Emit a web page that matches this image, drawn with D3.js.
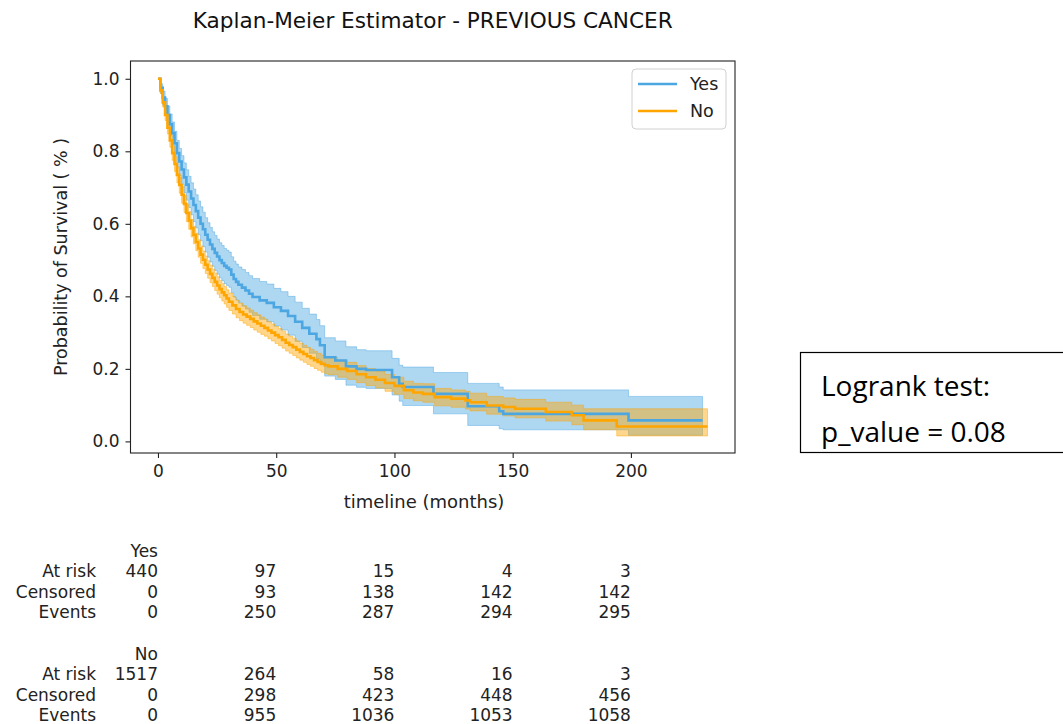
<!DOCTYPE html>
<html>
<head>
<meta charset="utf-8">
<script src="https://cdn.jsdelivr.net/npm/d3@7"></script>
<style>
  body { margin: 0; background: #fff; }
  svg { display: block; font-family: "DejaVu Sans", sans-serif; }
</style>
</head>
<body>
<script>
// survival curve for "Yes" (months, S(t), lower CI, upper CI)
const yesTime = [0, 1, 2, 3, 4, 5, 6, 7, 8, 9, 10, 11, 12, 13, 14, 15, 16, 17, 18, 19, 20, 21, 22, 23, 24, 25, 26, 27, 28, 29, 30, 31, 32, 33, 34, 35.5, 37, 38.5, 40, 43, 46, 49, 52, 55, 58, 61, 64, 67, 68.5, 70.5, 75, 79.5, 84, 88, 99, 102, 103.5, 116.5, 131, 144.3, 146, 199, 230.3];
const yesSurv = [1, 0.975, 0.948, 0.924, 0.9, 0.875, 0.85, 0.822, 0.795, 0.772, 0.75, 0.728, 0.708, 0.689, 0.67, 0.652, 0.635, 0.617, 0.6, 0.585, 0.57, 0.556, 0.543, 0.531, 0.52, 0.51, 0.5, 0.492, 0.484, 0.479, 0.474, 0.46, 0.448, 0.44, 0.432, 0.424, 0.416, 0.407, 0.398, 0.389, 0.382, 0.37, 0.36, 0.346, 0.33, 0.313, 0.297, 0.282, 0.265, 0.232, 0.223, 0.207, 0.2, 0.197, 0.177, 0.159, 0.15, 0.131, 0.097, 0.083, 0.076, 0.058, 0.058];
const yesLower = [1, 0.96, 0.927, 0.899, 0.872, 0.844, 0.817, 0.787, 0.758, 0.733, 0.709, 0.686, 0.665, 0.645, 0.625, 0.606, 0.589, 0.57, 0.553, 0.537, 0.522, 0.508, 0.495, 0.483, 0.471, 0.461, 0.451, 0.443, 0.435, 0.43, 0.425, 0.41, 0.398, 0.39, 0.382, 0.373, 0.365, 0.356, 0.347, 0.337, 0.33, 0.318, 0.307, 0.293, 0.276, 0.259, 0.243, 0.228, 0.211, 0.18, 0.171, 0.155, 0.149, 0.146, 0.128, 0.111, 0.099, 0.076, 0.044, 0.035, 0.032, 0.017, 0.017];
const yesUpper = [1, 0.986, 0.966, 0.946, 0.925, 0.903, 0.881, 0.855, 0.83, 0.808, 0.788, 0.768, 0.749, 0.731, 0.713, 0.696, 0.68, 0.663, 0.647, 0.632, 0.617, 0.603, 0.59, 0.578, 0.568, 0.558, 0.548, 0.54, 0.532, 0.527, 0.522, 0.509, 0.497, 0.489, 0.481, 0.474, 0.466, 0.457, 0.449, 0.441, 0.434, 0.422, 0.413, 0.4, 0.384, 0.367, 0.351, 0.336, 0.319, 0.286, 0.277, 0.261, 0.253, 0.25, 0.229, 0.21, 0.205, 0.19, 0.16, 0.15, 0.142, 0.124, 0.124];

// survival curve for "No"
const noTime = [0, 1, 2, 3, 4, 5, 6, 7, 8, 9, 10, 11, 12, 13, 14, 15, 16, 17, 18, 19, 20, 21, 22, 23, 24, 25, 26, 27, 28, 29, 30, 31.5, 33, 34.5, 36, 37.5, 39, 40.5, 42, 43.5, 45, 46.5, 48, 49.5, 51, 52.5, 54, 55.5, 57, 58.5, 60, 61.5, 63, 64.5, 66, 67.5, 69, 70.5, 72, 76, 80, 84, 88, 92, 96, 100, 104, 108, 112, 117, 124, 130, 132, 139, 146, 151, 164, 175, 180, 194, 232.4];
const noSurv = [1, 0.968, 0.935, 0.9, 0.865, 0.83, 0.795, 0.765, 0.735, 0.707, 0.68, 0.655, 0.63, 0.609, 0.588, 0.569, 0.55, 0.532, 0.515, 0.501, 0.487, 0.474, 0.462, 0.451, 0.44, 0.43, 0.42, 0.411, 0.403, 0.394, 0.385, 0.375, 0.365, 0.357, 0.35, 0.344, 0.338, 0.331, 0.325, 0.319, 0.313, 0.306, 0.3, 0.293, 0.287, 0.28, 0.272, 0.266, 0.26, 0.253, 0.247, 0.241, 0.235, 0.23, 0.224, 0.219, 0.214, 0.21, 0.207, 0.2, 0.194, 0.185, 0.177, 0.17, 0.161, 0.153, 0.141, 0.135, 0.131, 0.122, 0.118, 0.113, 0.108, 0.099, 0.095, 0.09, 0.081, 0.072, 0.058, 0.041, 0.041];
const noLower = [1, 0.959, 0.922, 0.885, 0.848, 0.811, 0.775, 0.744, 0.713, 0.684, 0.657, 0.631, 0.606, 0.585, 0.564, 0.545, 0.526, 0.508, 0.491, 0.477, 0.463, 0.45, 0.438, 0.427, 0.416, 0.406, 0.396, 0.387, 0.379, 0.37, 0.361, 0.351, 0.341, 0.333, 0.326, 0.32, 0.314, 0.307, 0.301, 0.295, 0.29, 0.283, 0.277, 0.27, 0.264, 0.257, 0.249, 0.243, 0.237, 0.23, 0.224, 0.218, 0.212, 0.207, 0.201, 0.196, 0.191, 0.187, 0.184, 0.177, 0.171, 0.162, 0.154, 0.147, 0.138, 0.13, 0.118, 0.112, 0.108, 0.098, 0.094, 0.089, 0.084, 0.075, 0.07, 0.065, 0.056, 0.046, 0.032, 0.015, 0.015];
const noUpper = [1, 0.977, 0.947, 0.914, 0.881, 0.848, 0.814, 0.785, 0.756, 0.729, 0.703, 0.678, 0.654, 0.633, 0.612, 0.593, 0.574, 0.556, 0.539, 0.525, 0.511, 0.498, 0.486, 0.475, 0.464, 0.454, 0.444, 0.435, 0.427, 0.418, 0.409, 0.399, 0.389, 0.381, 0.374, 0.368, 0.362, 0.355, 0.349, 0.343, 0.337, 0.33, 0.324, 0.317, 0.311, 0.304, 0.296, 0.29, 0.284, 0.277, 0.271, 0.265, 0.259, 0.254, 0.248, 0.243, 0.238, 0.234, 0.231, 0.224, 0.218, 0.209, 0.201, 0.194, 0.185, 0.177, 0.166, 0.16, 0.159, 0.146, 0.142, 0.138, 0.133, 0.124, 0.12, 0.116, 0.108, 0.1, 0.09, 0.09, 0.09];

const xTicks = [0, 50, 100, 150, 200];
const yTicks = [0, 0.2, 0.4, 0.6, 0.8, 1.0];

// at-risk table
const tableTimes = [0, 50, 100, 150, 200];
const rowLabels = ["At risk", "Censored", "Events"];
const yesAtRisk = [440, 97, 15, 4, 3];
const yesCensored = [0, 93, 138, 142, 142];
const yesEvents = [0, 250, 287, 294, 295];
const noAtRisk = [1517, 264, 58, 16, 3];
const noCensored = [0, 298, 423, 448, 456];
const noEvents = [0, 955, 1036, 1053, 1058];

const W = 1063, H = 724;
const plot = { left: 130.5, right: 735, top: 61, bottom: 453 };
const blue = "#4ba6e2", orange = "#ffa500";

const svg = d3.select("body").append("svg").attr("width", W).attr("height", H);

const x = d3.scaleLinear().domain([-11.62, 244.02]).range([plot.left, plot.right]);
const y = d3.scaleLinear().domain([-0.032, 1.049]).range([plot.bottom, plot.top]);

function series(time, surv, lo, hi) {
  return time.map((t, i) => ({ t, s: surv[i], lo: lo[i], hi: hi[i] }));
}
const groups = [
  { name: "Yes", color: blue, data: series(yesTime, yesSurv, yesLower, yesUpper) },
  { name: "No", color: orange, data: series(noTime, noSurv, noLower, noUpper) }
];

const area = d3.area().curve(d3.curveStepAfter)
  .x(d => x(d.t)).y0(d => y(d.lo)).y1(d => y(d.hi));
const line = d3.line().curve(d3.curveStepAfter)
  .x(d => x(d.t)).y(d => y(d.s));

// confidence bands first, then lines
groups.forEach(g => {
  svg.append("path").attr("d", area(g.data))
    .attr("fill", g.color).attr("fill-opacity", 0.45)
    .attr("stroke", g.color).attr("stroke-opacity", 0.45).attr("stroke-width", 1);
});
groups.forEach(g => {
  svg.append("path").attr("d", line(g.data))
    .attr("fill", "none").attr("stroke", g.color).attr("stroke-width", 2.6);
});

// frame
svg.append("rect")
  .attr("x", plot.left).attr("y", plot.top)
  .attr("width", plot.right - plot.left).attr("height", plot.bottom - plot.top)
  .attr("fill", "none").attr("stroke", "#222").attr("stroke-width", 1.1);

// axes
const xAxis = svg.append("g").attr("transform", `translate(0,${plot.bottom})`)
  .call(d3.axisBottom(x).tickValues(xTicks).tickFormat(d3.format("d")).tickSize(5).tickPadding(7));
const yAxis = svg.append("g").attr("transform", `translate(${plot.left},0)`)
  .call(d3.axisLeft(y).tickValues(yTicks).tickFormat(d3.format(".1f")).tickSize(5).tickPadding(6));
[xAxis, yAxis].forEach(a => {
  a.select(".domain").remove();
  a.selectAll("line").attr("stroke", "#222").attr("stroke-width", 1.1);
  a.selectAll("text").attr("font-family", "DejaVu Sans").attr("font-size", 17).attr("fill", "#222");
});

// titles
svg.append("text").attr("x", (plot.left + plot.right) / 2).attr("y", 28)
  .attr("text-anchor", "middle").attr("font-size", 21.6).attr("fill", "#111")
  .text("Kaplan-Meier Estimator - PREVIOUS CANCER");
svg.append("text").attr("x", 424).attr("y", 508)
  .attr("text-anchor", "middle").attr("font-size", 18).attr("fill", "#222")
  .text("timeline (months)");
svg.append("text")
  .attr("transform", `translate(67,${(plot.top + plot.bottom) / 2}) rotate(-90)`)
  .attr("text-anchor", "middle").attr("font-size", 17.5).attr("fill", "#222")
  .text("Probability of Survival ( % )");

// legend
const lg = svg.append("g").attr("transform", "translate(632,69)");
lg.append("rect").attr("width", 94).attr("height", 60).attr("rx", 4)
  .attr("fill", "#fff").attr("fill-opacity", 0.8).attr("stroke", "#d0d0d0");
groups.forEach((g, i) => {
  const yy = 15 + i * 27;
  lg.append("line").attr("x1", 6).attr("x2", 45).attr("y1", yy).attr("y2", yy)
    .attr("stroke", g.color).attr("stroke-width", 2.6);
  lg.append("text").attr("x", 58).attr("y", yy + 6).attr("font-size", 17.5).attr("fill", "#222").text(g.name);
});

// logrank box
svg.append("rect").attr("x", 800.5).attr("y", 352.5).attr("width", 300).attr("height", 100)
  .attr("fill", "#fff").attr("stroke", "#000").attr("stroke-width", 1.2);
svg.append("text").attr("x", 821).attr("y", 396).attr("font-family", "Open Sans")
  .attr("font-size", 28).attr("fill", "#000").text("Logrank test:");
svg.append("text").attr("x", 821).attr("y", 442).attr("font-family", "Open Sans")
  .attr("font-size", 28).attr("fill", "#000").text("p_value = 0.08");

// at-risk table
const blocks = [
  { name: "Yes", top: 557, rows: [yesAtRisk, yesCensored, yesEvents] },
  { name: "No", top: 660, rows: [noAtRisk, noCensored, noEvents] }
];
const rowH = 20.4;
blocks.forEach(b => {
  svg.append("text").attr("x", x(0)).attr("y", b.top).attr("text-anchor", "end")
    .attr("font-size", 17).attr("fill", "#222").text(b.name);
  b.rows.forEach((vals, r) => {
    const yy = b.top + (r + 1) * rowH;
    svg.append("text").attr("x", 96).attr("y", yy).attr("text-anchor", "end")
      .attr("font-size", 17).attr("fill", "#222").text(rowLabels[r]);
    svg.selectAll(null).data(vals).join("text")
      .attr("x", (d, i) => x(tableTimes[i])).attr("y", yy)
      .attr("text-anchor", "end").attr("font-size", 17).attr("fill", "#222")
      .text(d => d);
  });
});
</script>
</body>
</html>
